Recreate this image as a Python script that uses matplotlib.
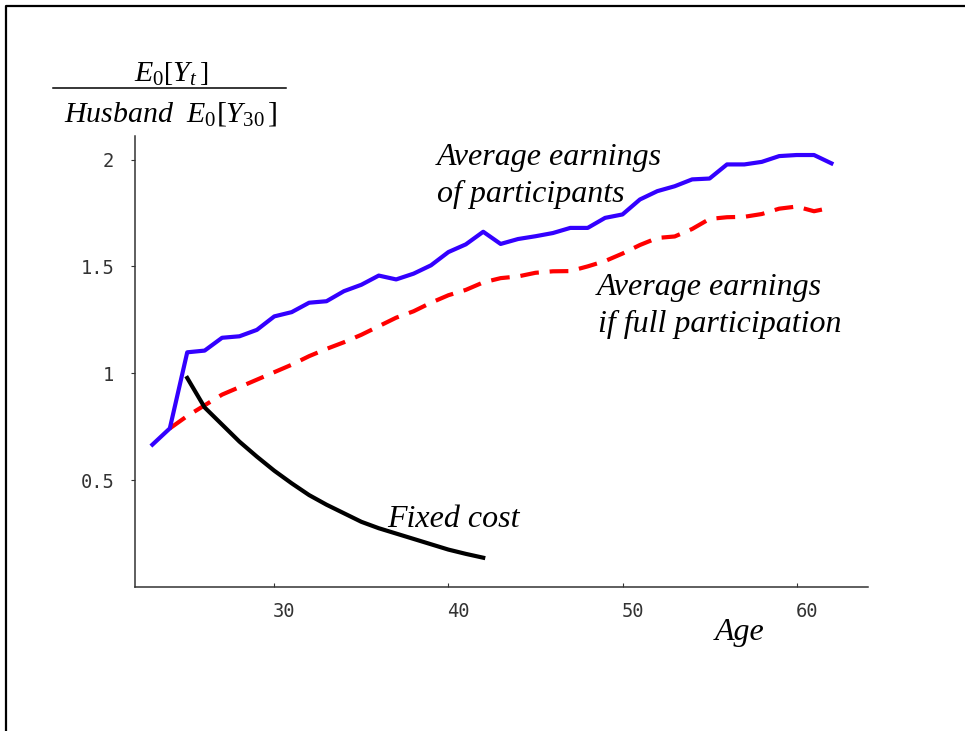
import matplotlib
matplotlib.use("Agg")
import matplotlib.pyplot as plt
import matplotlib.transforms as mtransforms
from matplotlib.lines import Line2D

plt.rcParams['mathtext.fontset'] = 'custom'
plt.rcParams['mathtext.rm'] = 'Liberation Serif'
plt.rcParams['mathtext.it'] = 'Liberation Serif:italic'

# average earnings of participants, ages 23-62
ages_part = list(range(23, 63))
earn_part = [0.666, 0.742, 1.098, 1.106, 1.166, 1.173, 1.203, 1.266, 1.286, 1.330,
             1.337, 1.384, 1.414, 1.457, 1.439, 1.466, 1.505, 1.567, 1.603, 1.662,
             1.605, 1.628, 1.641, 1.656, 1.680, 1.680, 1.727, 1.743, 1.813, 1.852,
             1.875, 1.907, 1.911, 1.977, 1.977, 1.989, 2.016, 2.021, 2.021, 1.982]

# average earnings if everybody participates, ages 24-62
ages_full = list(range(24, 63))
earn_full = [0.742, 0.800, 0.850, 0.900, 0.935, 0.970, 1.005, 1.040, 1.080, 1.114,
             1.145, 1.180, 1.220, 1.260, 1.290, 1.330, 1.365, 1.390, 1.425, 1.445,
             1.453, 1.470, 1.477, 1.478, 1.500, 1.525, 1.560, 1.600, 1.633, 1.640,
             1.675, 1.722, 1.730, 1.732, 1.745, 1.770, 1.780, 1.758, 1.775]

# fixed cost of participating, ages 25-42
ages_cost = list(range(25, 43))
fixed_cost = [0.978, 0.840, 0.760, 0.680, 0.610, 0.544, 0.485, 0.430, 0.385, 0.345,
              0.305, 0.275, 0.250, 0.225, 0.200, 0.175, 0.155, 0.137]

x_ticks = [30, 40, 50, 60]
y_ticks = [0.5, 1, 1.5, 2]
y_tick_labels = ['0.5', '1', '1.5', '2']

fig = plt.figure(figsize=(9.65, 7.31), dpi=100)
ax = fig.add_axes([135 / 965, 1 - 587 / 731, (868 - 135) / 965, (587 - 136) / 731])

ax.plot(ages_full, earn_full, color='#ff0000', lw=3.0, dashes=(4.5, 2.6), zorder=2)
ax.plot(ages_part, earn_part, color='#3300ff', lw=3.0, zorder=3)
ax.plot(ages_cost, fixed_cost, color='black', lw=3.0, zorder=3)

ax.set_xlim(22.0, 64.1)
ax.set_ylim(0, 2.11)

for s in ['top', 'right']:
    ax.spines[s].set_visible(False)
for s in ['left', 'bottom']:
    ax.spines[s].set_color('#333333')
    ax.spines[s].set_linewidth(1.1)

ax.set_xticks(x_ticks)
ax.set_xticklabels([str(t) for t in x_ticks])
ax.set_yticks(y_ticks)
ax.set_yticklabels(y_tick_labels)
ax.tick_params(axis='x', direction='in', length=3, width=0.8, color='#333333',
               pad=11, labelsize=13.5, labelcolor='#333333')
ax.tick_params(axis='y', direction='out', length=3, width=0.8, color='#333333',
               pad=12, labelsize=13.5, labelcolor='#333333')
for lab in ax.get_xticklabels() + ax.get_yticklabels():
    lab.set_fontfamily('DejaVu Sans Mono')
# x labels sit a little right of their ticks
shift = mtransforms.ScaledTranslation(10 / 100, 0, fig.dpi_scale_trans)
for lab in ax.get_xticklabels():
    lab.set_transform(lab.get_transform() + shift)

serif_it = dict(family='Liberation Serif', style='italic', fontsize=23)
ax.text(39.34, 1.973, 'Average earnings', va='baseline', **serif_it)
ax.text(39.34, 1.801, 'of participants', va='baseline', **serif_it)
ax.text(48.52, 1.365, 'Average earnings', va='baseline', **serif_it)
ax.text(48.60, 1.193, 'if full participation', va='baseline', **serif_it)
ax.text(36.48, 0.280, 'Fixed cost', va='baseline', **serif_it)
ax.text(55.3, -0.246, 'Age', va='baseline', clip_on=False, **serif_it)

# y axis label drawn as a fraction
fig.text(171 / 965, 1 - 81.7 / 731, r'$E_0\left[Y_t\,\right]$', ha='center',
         va='baseline', fontsize=21.5)
fig.add_artist(Line2D([53 / 965, 286 / 965], [1 - 88.3 / 731] * 2,
                      transform=fig.transFigure, color='black', lw=1.1))
fig.text(171 / 965, 1 - 121.7 / 731, r'$\mathit{Husband}\ \ E_0\mathit{[}Y_{30}\,\mathit{]}$',
         ha='center', va='baseline', fontsize=21.5)

# outer frame (left and top edges)
fig.add_artist(Line2D([6 / 965, 6 / 965, 1.0], [0.0, 1 - 6 / 731, 1 - 6 / 731],
                      transform=fig.transFigure, color='black', lw=1.6))

fig.savefig('out.png', dpi=100)
